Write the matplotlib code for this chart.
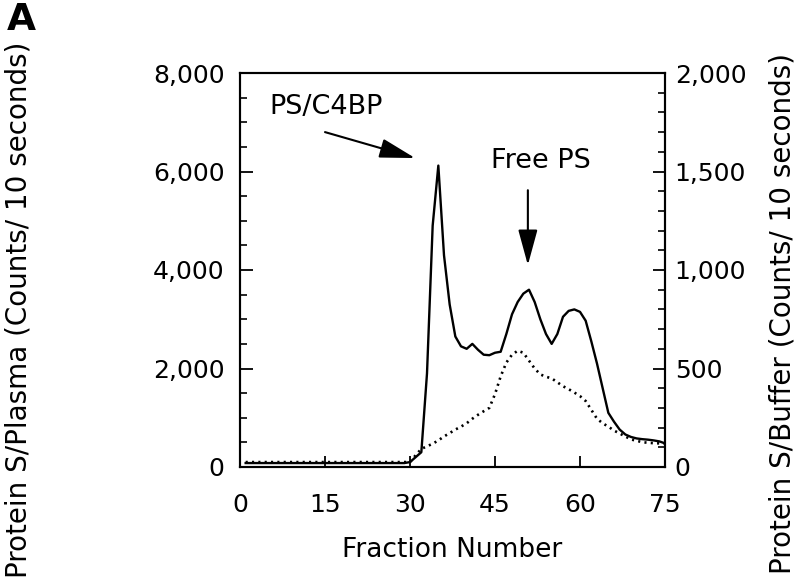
import matplotlib
matplotlib.use("Agg")
import matplotlib.pyplot as plt
from matplotlib.ticker import FuncFormatter, MultipleLocator
import numpy as np

fractions = list(range(1, 76))
plasma = [80]*29 + [100, 200, 300, 1900, 4900, 6120, 4300, 3300, 2650, 2450, 2400,
          2500, 2380, 2280, 2270, 2320, 2340, 2700, 3100, 3350, 3520,
          3600, 3350, 3000, 2700, 2500, 2700, 3050, 3170, 3200, 3150,
          2970, 2550, 2100, 1600, 1100, 920, 760, 660, 610, 580,
          565, 555, 540, 520, 480]
buffer = [25]*30 + [60, 92, 105, 118, 135, 155, 172, 190, 205, 222,
          245, 265, 283, 300, 370, 460, 530, 570, 590, 580,
          540, 500, 470, 458, 450, 430, 410, 395, 378, 360,
          335, 290, 245, 222, 205, 185, 170, 155, 140, 133,
          126, 123, 121, 120, 120]

x_ticks = [0, 15, 30, 45, 60, 75]
left_ticks = [0, 2000, 4000, 6000, 8000]
right_ticks = [0, 500, 1000, 1500, 2000]

fig = plt.figure(figsize=(7.96, 5.87), dpi=100)
ax = fig.add_axes([240/796, 1-467/587, 425/796, 394/587])
ax2 = ax.twinx()

ax.plot(fractions, plasma, color='black', lw=1.7)
ax2.plot(fractions, buffer, color='black', lw=1.9, linestyle=(0, (0.8, 1.6)))

ax.set_xlim(0, 75)
ax.set_ylim(0, 8000)
ax2.set_ylim(0, 2000)

fmt = FuncFormatter(lambda v, p: f"{int(v):,}")
ax.set_xticks(x_ticks)
ax.set_yticks(left_ticks)
ax.yaxis.set_minor_locator(MultipleLocator(500))
ax.yaxis.set_major_formatter(fmt)
ax2.set_yticks(right_ticks)
ax2.yaxis.set_minor_locator(MultipleLocator(100))
ax2.yaxis.set_major_formatter(fmt)

fs = 18
ax.tick_params(axis='x', direction='in', length=8, width=1.3, labelsize=fs, pad=19)
ax.tick_params(axis='y', which='major', direction='in', length=9, width=1.3, labelsize=fs, pad=11)
ax.tick_params(axis='y', which='minor', direction='in', length=5, width=1.2)
ax2.tick_params(axis='y', which='major', direction='in', length=9, width=1.3, labelsize=fs, pad=7)
ax2.tick_params(axis='y', which='minor', direction='in', length=5, width=1.2)

for a in (ax, ax2):
    for s in a.spines.values():
        s.set_linewidth(1.5)

ax.set_xlabel("Fraction Number", fontsize=19)
ax.xaxis.set_label_coords((452-240)/425, (467-550)/394)
ax.xaxis.label.set_va('center')
ax.set_ylabel("Protein S/Plasma (Counts/ 10 seconds)", fontsize=20)
ax.yaxis.set_label_coords((18-240)/425, (467-310)/394)
ax.yaxis.label.set_va('center')
ax2.set_ylabel("Protein S/Buffer (Counts/ 10 seconds)", fontsize=20, rotation=90)
ax2.yaxis.set_label_coords((783-240)/425, (467-314)/394)
ax2.yaxis.label.set_va('center')

ap = dict(arrowstyle='-|>,head_length=1.1,head_width=0.3', color='black', lw=1.5,
          mutation_scale=20, shrinkA=0, shrinkB=0)
ax.text(15.2, 7310, "PS/C4BP", fontsize=19.5, ha='center', va='center')
ax.annotate("", xy=(30.9, 6273), xytext=(15, 6800), arrowprops=ap)
ax.text(53.1, 6212, "Free PS", fontsize=19.5, ha='center', va='center')
ax.annotate("", xy=(50.8, 4100), xytext=(50.8, 5620), arrowprops=ap)

fig.text(7/796, 1-20/587, "A", fontsize=27, fontweight='heavy', ha='left', va='center')

fig.savefig("out.png", dpi=100)
